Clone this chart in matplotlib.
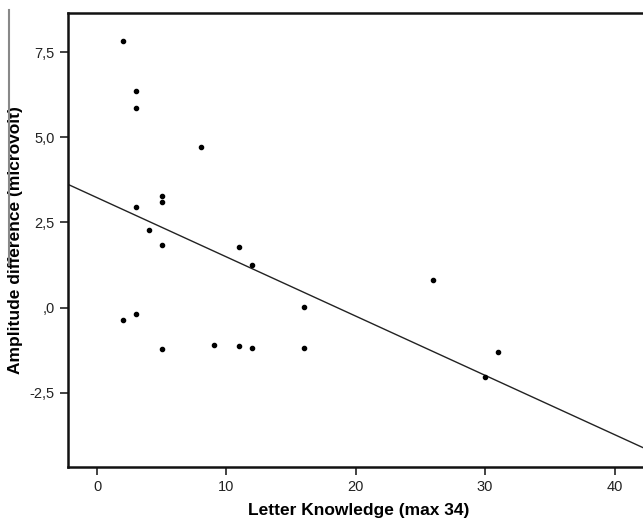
import matplotlib.pyplot as plt
import numpy as np
from matplotlib.lines import Line2D

# letter knowledge score vs amplitude difference
letter_knowledge = [2, 3, 3, 8, 5, 5, 3, 4, 5, 11,
                    12, 16, 2, 3, 5, 9, 11, 12, 16,
                    26, 31, 30]
amp_diff = [7.84, 6.36, 5.85, 4.73, 3.29, 3.09, 2.95, 2.28, 1.84, 1.78,
            1.26, 0.01, -0.37, -0.19, -1.21, -1.10, -1.12, -1.18, -1.20,
            0.81, -1.29, -2.04]

x_ticks = [0, 10, 20, 30, 40]
y_ticks = [-2.5, 0.0, 2.5, 5.0, 7.5]
y_tick_labels = ["-2,5", ",0", "2,5", "5,0", "7,5"]

plt.rcParams['font.family'] = ['Liberation Sans', 'DejaVu Sans']

fig = plt.figure(figsize=(6.43, 5.19), dpi=100)
ax = fig.add_axes([68 / 643, 1 - 467 / 519, (643 - 68) / 643 + 0.01, (467 - 13) / 519])

ax.scatter(letter_knowledge, amp_diff, s=9, color='black', zorder=3)

# linear fit line
slope, intercept = np.polyfit(letter_knowledge, amp_diff, 1)
xs = np.array([-3, 44])
ax.plot(xs, intercept + slope * xs, color='#222222', lw=1.0)

ax.set_xlim(-2.25, 42.7)
ax.set_ylim(-4.68, 8.65)

ax.set_xticks(x_ticks)
ax.set_xticklabels([str(t) for t in x_ticks])
ax.set_yticks(y_ticks)
ax.set_yticklabels(y_tick_labels)
ax.tick_params(direction='out', length=6, width=1.2, labelsize=10.5, colors='#222222')

for s in ['left', 'bottom', 'top']:
    ax.spines[s].set_linewidth(1.8)
    ax.spines[s].set_color('#111111')
ax.spines['right'].set_visible(False)

ax.set_xlabel("Letter Knowledge (max 34)", fontsize=12.5, fontweight='bold', labelpad=6)
ax.set_ylabel("Amplitude difference (microvolt)", fontsize=12.5, fontweight='bold', labelpad=5)

# gray border piece at the left edge
fig.add_artist(Line2D([9 / 643, 9 / 643], [1 - 10 / 519, 1 - 265 / 519], color='#888888', lw=1.5))

fig.savefig("out.png", dpi=100)
